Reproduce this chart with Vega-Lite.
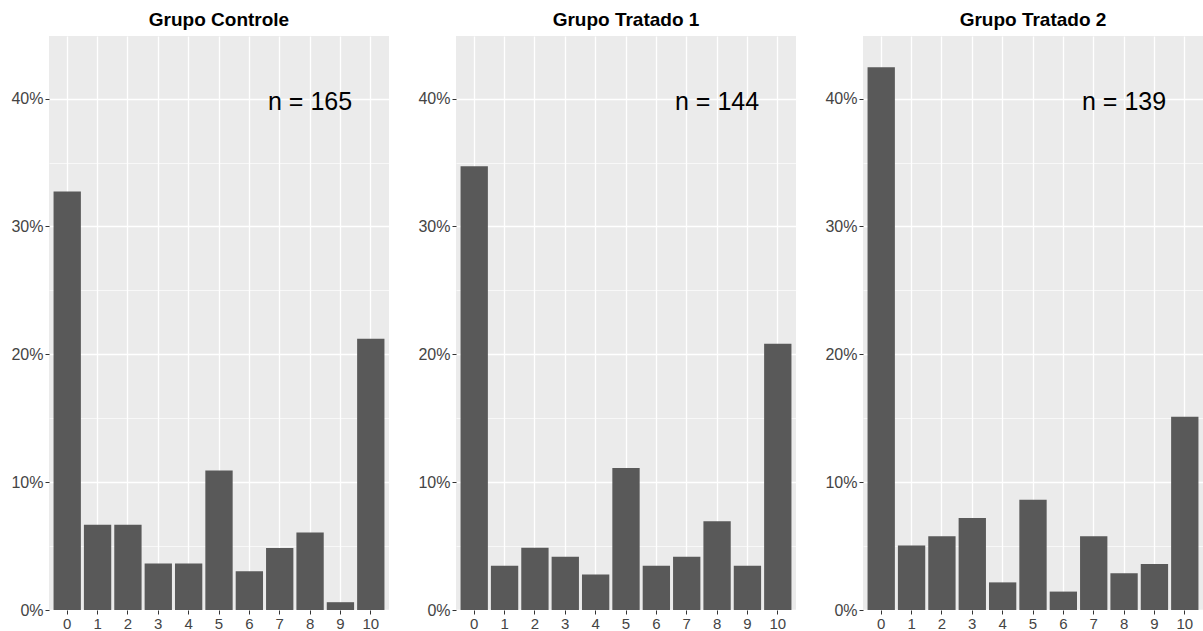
{
  "$schema": "https://vega.github.io/schema/vega-lite/v6.json",
  "padding": {"left": 0, "top": 11, "right": 0, "bottom": 0},
  "background": "white",
  "datasets": {
    "bars": [
      {"group": "Controle", "score": 0, "pct": 0.3273},
      {"group": "Controle", "score": 1, "pct": 0.0667},
      {"group": "Controle", "score": 2, "pct": 0.0667},
      {"group": "Controle", "score": 3, "pct": 0.0364},
      {"group": "Controle", "score": 4, "pct": 0.0364},
      {"group": "Controle", "score": 5, "pct": 0.1091},
      {"group": "Controle", "score": 6, "pct": 0.0303},
      {"group": "Controle", "score": 7, "pct": 0.0485},
      {"group": "Controle", "score": 8, "pct": 0.0606},
      {"group": "Controle", "score": 9, "pct": 0.0061},
      {"group": "Controle", "score": 10, "pct": 0.2121},
      {"group": "T1", "score": 0, "pct": 0.3472},
      {"group": "T1", "score": 1, "pct": 0.0347},
      {"group": "T1", "score": 2, "pct": 0.0486},
      {"group": "T1", "score": 3, "pct": 0.0417},
      {"group": "T1", "score": 4, "pct": 0.0278},
      {"group": "T1", "score": 5, "pct": 0.1111},
      {"group": "T1", "score": 6, "pct": 0.0347},
      {"group": "T1", "score": 7, "pct": 0.0417},
      {"group": "T1", "score": 8, "pct": 0.0694},
      {"group": "T1", "score": 9, "pct": 0.0347},
      {"group": "T1", "score": 10, "pct": 0.2083},
      {"group": "T2", "score": 0, "pct": 0.4245},
      {"group": "T2", "score": 1, "pct": 0.0504},
      {"group": "T2", "score": 2, "pct": 0.0576},
      {"group": "T2", "score": 3, "pct": 0.0719},
      {"group": "T2", "score": 4, "pct": 0.0216},
      {"group": "T2", "score": 5, "pct": 0.0863},
      {"group": "T2", "score": 6, "pct": 0.0144},
      {"group": "T2", "score": 7, "pct": 0.0576},
      {"group": "T2", "score": 8, "pct": 0.0288},
      {"group": "T2", "score": 9, "pct": 0.0360},
      {"group": "T2", "score": 10, "pct": 0.1511}
    ],
    "labels": [
      {"group": "Controle", "score": 8, "pct": 0.40, "label": "n = 165"},
      {"group": "T1", "score": 8, "pct": 0.40, "label": "n = 144"},
      {"group": "T2", "score": 8, "pct": 0.40, "label": "n = 139"}
    ]
  },
  "hconcat": [
    {
      "title": {"text": "Grupo Controle"},
      "width": 340, "height": 574,
      "layer": [
        {
          "data": {"name": "bars"},
          "transform": [{"filter": "datum.group == 'Controle'"}],
          "mark": {"type": "bar", "color": "#595959"},
          "encoding": {
            "x": {"field": "score", "type": "ordinal", "scale": {"domain": [0,1,2,3,4,5,6,7,8,9,10], "paddingInner": 0.1, "paddingOuter": 0.15}, "axis": {"title": null, "labelAngle": 0, "grid": true, "bandPosition": 0.5, "gridColor": "white", "gridWidth": 1.3, "domain": false, "tickColor": "#333333", "tickSize": 4, "labelPadding": 2, "labelFont": "Liberation Sans", "labelFontSize": 15, "labelColor": "#444444"}},
            "y": {"field": "pct", "type": "quantitative", "scale": {"domain": [0, 0.449], "nice": false}, "axis": {"title": null, "values": [0,0.05,0.1,0.15,0.2,0.25,0.3,0.35,0.4,0.45], "labelExpr": "round(datum.value*100) % 10 == 0 ? format(datum.value, '.0%') : ''", "grid": true, "gridColor": "white", "gridWidth": {"condition": {"test": "round(datum.value*100) % 10 == 0", "value": 1.3}, "value": 0.65}, "tickOpacity": {"condition": {"test": "round(datum.value*100) % 10 == 0", "value": 1}, "value": 0}, "domain": false, "tickColor": "#333333", "tickSize": 4, "labelPadding": 2, "labelFont": "Liberation Sans", "labelFontSize": 16, "labelColor": "#444444", "minExtent": 49, "maxExtent": 49}}
          }
        },
        {
          "data": {"name": "labels"},
          "transform": [{"filter": "datum.group == 'Controle'"}],
          "mark": {"type": "text", "font": "Liberation Sans", "fontSize": 25, "color": "black", "align": "center", "baseline": "middle", "dy": 3},
          "encoding": {
            "x": {"field": "score", "type": "ordinal"},
            "y": {"field": "pct", "type": "quantitative"},
            "text": {"field": "label"}
          }
        }
      ]
    },
    {
      "title": {"text": "Grupo Tratado 1"},
      "width": 340, "height": 574,
      "layer": [
        {
          "data": {"name": "bars"},
          "transform": [{"filter": "datum.group == 'T1'"}],
          "mark": {"type": "bar", "color": "#595959"},
          "encoding": {
            "x": {"field": "score", "type": "ordinal", "scale": {"domain": [0,1,2,3,4,5,6,7,8,9,10], "paddingInner": 0.1, "paddingOuter": 0.15}, "axis": {"title": null, "labelAngle": 0, "grid": true, "bandPosition": 0.5, "gridColor": "white", "gridWidth": 1.3, "domain": false, "tickColor": "#333333", "tickSize": 4, "labelPadding": 2, "labelFont": "Liberation Sans", "labelFontSize": 15, "labelColor": "#444444"}},
            "y": {"field": "pct", "type": "quantitative", "scale": {"domain": [0, 0.449], "nice": false}, "axis": {"title": null, "values": [0,0.05,0.1,0.15,0.2,0.25,0.3,0.35,0.4,0.45], "labelExpr": "round(datum.value*100) % 10 == 0 ? format(datum.value, '.0%') : ''", "grid": true, "gridColor": "white", "gridWidth": {"condition": {"test": "round(datum.value*100) % 10 == 0", "value": 1.3}, "value": 0.65}, "tickOpacity": {"condition": {"test": "round(datum.value*100) % 10 == 0", "value": 1}, "value": 0}, "domain": false, "tickColor": "#333333", "tickSize": 4, "labelPadding": 2, "labelFont": "Liberation Sans", "labelFontSize": 16, "labelColor": "#444444", "minExtent": 49, "maxExtent": 49}}
          }
        },
        {
          "data": {"name": "labels"},
          "transform": [{"filter": "datum.group == 'T1'"}],
          "mark": {"type": "text", "font": "Liberation Sans", "fontSize": 25, "color": "black", "align": "center", "baseline": "middle", "dy": 3},
          "encoding": {
            "x": {"field": "score", "type": "ordinal"},
            "y": {"field": "pct", "type": "quantitative"},
            "text": {"field": "label"}
          }
        }
      ]
    },
    {
      "title": {"text": "Grupo Tratado 2"},
      "width": 340, "height": 574,
      "layer": [
        {
          "data": {"name": "bars"},
          "transform": [{"filter": "datum.group == 'T2'"}],
          "mark": {"type": "bar", "color": "#595959"},
          "encoding": {
            "x": {"field": "score", "type": "ordinal", "scale": {"domain": [0,1,2,3,4,5,6,7,8,9,10], "paddingInner": 0.1, "paddingOuter": 0.15}, "axis": {"title": null, "labelAngle": 0, "grid": true, "bandPosition": 0.5, "gridColor": "white", "gridWidth": 1.3, "domain": false, "tickColor": "#333333", "tickSize": 4, "labelPadding": 2, "labelFont": "Liberation Sans", "labelFontSize": 15, "labelColor": "#444444"}},
            "y": {"field": "pct", "type": "quantitative", "scale": {"domain": [0, 0.449], "nice": false}, "axis": {"title": null, "values": [0,0.05,0.1,0.15,0.2,0.25,0.3,0.35,0.4,0.45], "labelExpr": "round(datum.value*100) % 10 == 0 ? format(datum.value, '.0%') : ''", "grid": true, "gridColor": "white", "gridWidth": {"condition": {"test": "round(datum.value*100) % 10 == 0", "value": 1.3}, "value": 0.65}, "tickOpacity": {"condition": {"test": "round(datum.value*100) % 10 == 0", "value": 1}, "value": 0}, "domain": false, "tickColor": "#333333", "tickSize": 4, "labelPadding": 2, "labelFont": "Liberation Sans", "labelFontSize": 16, "labelColor": "#444444", "minExtent": 49, "maxExtent": 49}}
          }
        },
        {
          "data": {"name": "labels"},
          "transform": [{"filter": "datum.group == 'T2'"}],
          "mark": {"type": "text", "font": "Liberation Sans", "fontSize": 25, "color": "black", "align": "center", "baseline": "middle", "dy": 3},
          "encoding": {
            "x": {"field": "score", "type": "ordinal"},
            "y": {"field": "pct", "type": "quantitative"},
            "text": {"field": "label"}
          }
        }
      ]
    }
  ],
  "spacing": 67,
  "bounds": "flush",
  "config": {
    "view": {"fill": "#EBEBEB", "stroke": null},
    "title": {"font": "Liberation Sans", "fontSize": 19, "fontWeight": "bold", "color": "black", "anchor": "middle", "frame": "group", "offset": 6}
  }
}
